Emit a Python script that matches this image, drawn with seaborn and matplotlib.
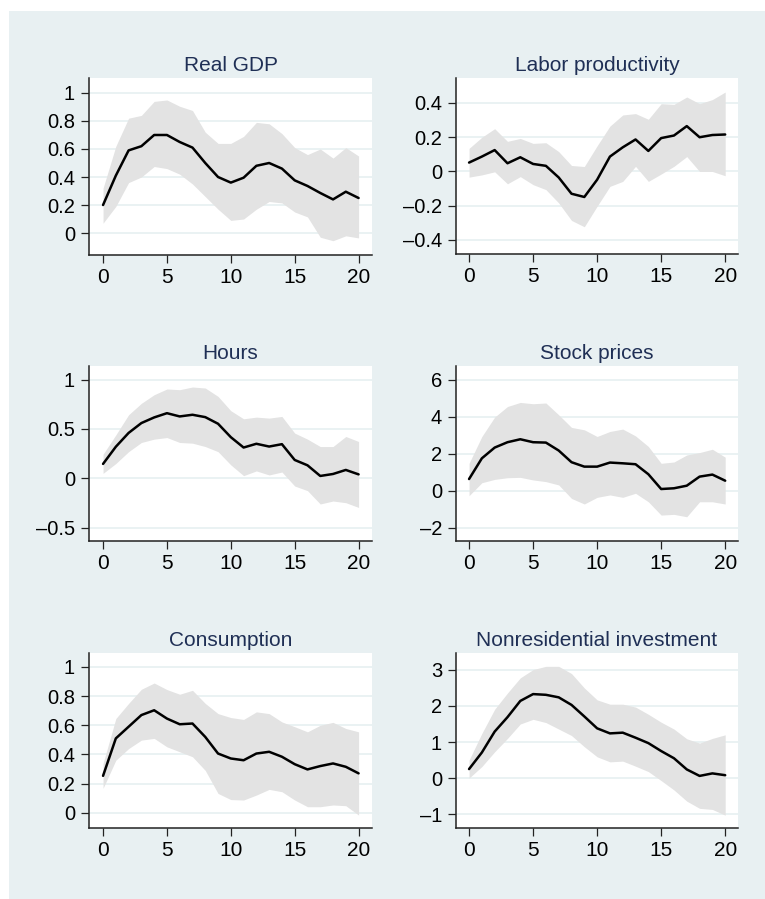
import numpy as np
import pandas as pd
import seaborn as sns
import matplotlib
matplotlib.use("Agg")
import matplotlib.pyplot as plt
from matplotlib.patches import Rectangle

sns.set_theme(style="white")
plt.rcParams['font.family'] = ['Liberation Sans', 'DejaVu Sans']

horizon = list(range(21))

titles = ["Real GDP", "Labor productivity", "Hours", "Stock prices",
          "Consumption", "Nonresidential investment"]

gdp_mid = [0.20, 0.41, 0.59, 0.62, 0.70, 0.70, 0.65, 0.61, 0.50, 0.40, 0.36,
           0.395, 0.48, 0.50, 0.46, 0.376, 0.336, 0.286, 0.24, 0.295, 0.25]
gdp_hi = [0.32, 0.62, 0.82, 0.84, 0.94, 0.95, 0.905, 0.875, 0.72, 0.64, 0.64,
          0.69, 0.79, 0.78, 0.71, 0.61, 0.56, 0.60, 0.535, 0.61, 0.55]
gdp_lo = [0.07, 0.19, 0.36, 0.40, 0.475, 0.46, 0.42, 0.35, 0.26, 0.17, 0.09,
          0.10, 0.17, 0.225, 0.215, 0.15, 0.115, -0.03, -0.055, -0.02, -0.035]

lp_mid = [0.052, 0.087, 0.125, 0.048, 0.083, 0.044, 0.033, -0.035, -0.13, -0.149,
          -0.048, 0.087, 0.141, 0.187, 0.12, 0.195, 0.21, 0.265, 0.20, 0.213, 0.216]
lp_hi = [0.135, 0.20, 0.25, 0.176, 0.193, 0.164, 0.168, 0.116, 0.035, 0.029,
         0.15, 0.265, 0.33, 0.338, 0.305, 0.396, 0.392, 0.435, 0.396, 0.42, 0.464]
lp_lo = [-0.033, -0.02, -0.002, -0.072, -0.03, -0.077, -0.106, -0.184, -0.286, -0.323,
         -0.203, -0.087, -0.058, 0.03, -0.058, -0.015, 0.03, 0.087, 0.0, 0.0, -0.025]

hrs_mid = [0.146, 0.32, 0.46, 0.56, 0.617, 0.66, 0.627, 0.644, 0.62, 0.553, 0.417,
           0.312, 0.35, 0.322, 0.346, 0.186, 0.132, 0.024, 0.044, 0.085, 0.04]
hrs_hi = [0.244, 0.44, 0.644, 0.76, 0.847, 0.905, 0.898, 0.925, 0.915, 0.83, 0.685,
          0.603, 0.62, 0.61, 0.627, 0.458, 0.397, 0.322, 0.322, 0.424, 0.373]
hrs_lo = [0.05, 0.15, 0.27, 0.363, 0.397, 0.413, 0.363, 0.356, 0.322, 0.27, 0.136,
          0.027, 0.075, 0.034, 0.064, -0.078, -0.125, -0.26, -0.23, -0.247, -0.295]

stk_mid = [0.63, 1.75, 2.33, 2.62, 2.78, 2.62, 2.60, 2.17, 1.54, 1.30, 1.30,
           1.52, 1.48, 1.43, 0.89, 0.09, 0.13, 0.27, 0.76, 0.87, 0.54]
stk_hi = [1.48, 2.93, 3.98, 4.55, 4.77, 4.70, 4.74, 4.10, 3.42, 3.29, 2.93,
          3.20, 3.33, 2.96, 2.39, 1.48, 1.55, 1.93, 2.06, 2.24, 1.81]
stk_lo = [-0.27, 0.43, 0.61, 0.70, 0.72, 0.58, 0.49, 0.31, -0.42, -0.72, -0.36,
          -0.23, -0.36, -0.14, -0.60, -1.32, -1.28, -1.41, -0.60, -0.60, -0.72]

con_mid = [0.253, 0.51, 0.59, 0.67, 0.703, 0.646, 0.607, 0.612, 0.52, 0.406, 0.372,
           0.36, 0.406, 0.418, 0.384, 0.333, 0.297, 0.32, 0.338, 0.315, 0.27]
con_hi = [0.338, 0.646, 0.75, 0.847, 0.89, 0.845, 0.813, 0.84, 0.75, 0.68, 0.653,
          0.64, 0.692, 0.68, 0.623, 0.59, 0.555, 0.60, 0.62, 0.578, 0.555]
con_lo = [0.167, 0.36, 0.44, 0.498, 0.51, 0.452, 0.418, 0.384, 0.29, 0.132, 0.09,
          0.087, 0.121, 0.16, 0.144, 0.087, 0.041, 0.041, 0.053, 0.048, -0.016]

inv_mid = [0.25, 0.71, 1.29, 1.69, 2.14, 2.33, 2.31, 2.24, 2.03, 1.71, 1.38,
           1.24, 1.26, 1.12, 0.97, 0.75, 0.55, 0.24, 0.06, 0.13, 0.08]
inv_hi = [0.50, 1.24, 1.91, 2.36, 2.78, 3.01, 3.10, 3.10, 2.90, 2.50, 2.17,
          2.05, 2.05, 1.97, 1.77, 1.55, 1.36, 1.09, 0.97, 1.10, 1.20]
inv_lo = [0.0, 0.32, 0.73, 1.10, 1.50, 1.63, 1.54, 1.36, 1.18, 0.87, 0.59,
          0.45, 0.47, 0.33, 0.18, -0.07, -0.33, -0.64, -0.84, -0.87, -1.03]

x_ticks = [0, 5, 10, 15, 20]
y_ticks = [
    [0, 0.2, 0.4, 0.6, 0.8, 1],
    [-0.4, -0.2, 0, 0.2, 0.4],
    [-0.5, 0, 0.5, 1],
    [-2, 0, 2, 4, 6],
    [0, 0.2, 0.4, 0.6, 0.8, 1],
    [-1, 0, 1, 2, 3],
]

series = [
    (gdp_mid, gdp_lo, gdp_hi),
    (lp_mid, lp_lo, lp_hi),
    (hrs_mid, hrs_lo, hrs_hi),
    (stk_mid, stk_lo, stk_hi),
    (con_mid, con_lo, con_hi),
    (inv_mid, inv_lo, inv_hi),
]

# layout (pixels): left, top, right, bottom
W, H = 765, 899
boxes = [
    (89, 78, 372, 255),
    (456, 78, 738, 254),
    (89, 366, 372, 541),
    (456, 366, 738, 541),
    (89, 653, 372, 828),
    (456, 653, 738, 828),
]
ylims = [(-0.157, 1.107), (-0.482, 0.546), (-0.635, 1.138),
         (-2.72, 6.74), (-0.105, 1.096), (-1.385, 3.47)]
xlims = [(-1.1, 21.05), (-1.02, 21.0)]

BG = "#e8f0f2"
GRID = "#eaf2f3"
BAND = "#e3e3e3"
TITLE = "#1f2f55"

fig = plt.figure(figsize=(W / 100, H / 100), dpi=100)
fig.patch.set_facecolor("white")
fig.add_artist(Rectangle((9 / W, 0), 1 - 9 / W, 1 - 11 / H, transform=fig.transFigure,
                         facecolor=BG, edgecolor="none", zorder=-10))


def fmt(v):
    s = "{:g}".format(v)
    return s.replace("-", "\u2013")


for i, (title, (mid, lo, hi), yt, box) in enumerate(zip(titles, series, y_ticks, boxes)):
    l, t, r, b = box
    ax = fig.add_axes([l / W, 1 - b / H, (r - l) / W, (b - t) / H])
    ax.set_facecolor("white")
    df = pd.DataFrame({"h": horizon, "mid": mid, "lo": lo, "hi": hi})
    ax.fill_between(df["h"], df["lo"], df["hi"], color=BAND, linewidth=0, zorder=2)
    sns.lineplot(data=df, x="h", y="mid", ax=ax, color="black", linewidth=1.8, zorder=3)
    ax.set_xlim(*xlims[i % 2])
    ax.set_ylim(*ylims[i])
    ax.set_xticks(x_ticks)
    ax.set_xticklabels([str(v) for v in x_ticks])
    ax.set_yticks(yt)
    ax.set_yticklabels([fmt(v) for v in yt])
    for v in yt:
        ax.axhline(v, color=GRID, linewidth=1.4, zorder=1)
    ax.set_xlabel("")
    ax.set_ylabel("")
    for s in ["top", "right"]:
        ax.spines[s].set_visible(False)
    for s in ["left", "bottom"]:
        ax.spines[s].set_color("#222222")
        ax.spines[s].set_linewidth(1.1)
    ax.tick_params(axis="both", which="major", direction="out", length=5.5, width=0.9,
                   color="#222222", labelcolor="black", left=True, bottom=True)
    ax.tick_params(axis="x", labelsize=15, pad=4)
    ax.tick_params(axis="y", labelsize=14.5, pad=4.5)
    ax.set_title(title, fontsize=15, color=TITLE, pad=5)

fig.savefig("out.png", dpi=100, facecolor=fig.get_facecolor())
